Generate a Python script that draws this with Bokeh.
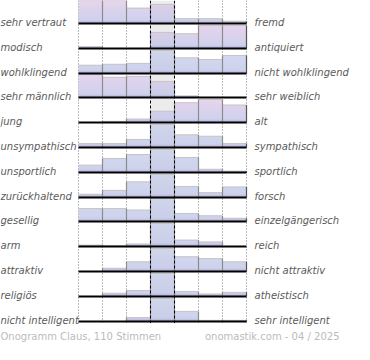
import numpy as np
from bokeh.plotting import figure
from bokeh.models import Range1d, ColumnDataSource
from bokeh.embed import file_html
from bokeh.resources import INLINE
from bokeh.core.properties import value

# ---------------- data ----------------
left_labels = ["sehr vertraut", "modisch", "wohlklingend", "sehr männlich", " jung",
               "unsympathisch", "unsportlich", "zurückhaltend", "gesellig", "arm",
               "attraktiv", "religiös", "nicht intelligent"]
right_labels = ["fremd", "antiquiert", "nicht wohlklingend", "sehr weiblich", "alt",
                "sympathisch", "sportlich", "forsch", "einzelgängerisch", "reich",
                "nicht attraktiv", "atheistisch", "sehr intelligent"]
# relative share per answer step (7 steps), per row
votes_vertraut = [100, 100, 67, 83, 21, 21, 10]
votes_modisch = [8, 0, 0, 70, 64, 100, 100]
votes_wohlklingend = [36, 40, 44, 100, 68, 61, 78]
votes_maennlich = [100, 88, 92, 70, 7, 0, 0]
votes_jung = [0, 5, 15, 49, 86, 100, 76]
votes_unsympathisch = [17, 17, 35, 100, 55, 49, 17]
votes_unsportlich = [32, 61, 78, 100, 65, 14, 6]
votes_zurueckhaltend = [14, 31, 68, 100, 48, 21, 46]
votes_gesellig = [56, 56, 50, 100, 35, 25, 14]
votes_arm = [6, 3, 11, 100, 28, 20, 0]
votes_attraktiv = [0, 14, 42, 100, 64, 56, 42]
votes_religioes = [0, 14, 26, 100, 22, 11, 18]
votes_intelligent = [0, 0, 17, 100, 44, 5, 5]
votes = [votes_vertraut, votes_modisch, votes_wohlklingend, votes_maennlich, votes_jung,
         votes_unsympathisch, votes_unsportlich, votes_zurueckhaltend, votes_gesellig,
         votes_arm, votes_attraktiv, votes_religioes, votes_intelligent]
footer_left = "Onogramm Claus, 110 Stimmen"
footer_right = "onomastik.com - 04 / 2025"

# ---------------- style / layout ----------------
row_pink = [True, True, False, True, True, False, False, False, False, False, False, False, False]
W, HGT = 354, 344
X0, BW = 78, 24          # plot left (px) and bin width (px)
BAR_H, ROW, B0 = 23.0, 24.8, 23.0
NB = 7


def mix(c1, c2, t):
    return "#%02x%02x%02x" % tuple(int(round(a + (b - a) * t)) for a, b in zip(c1, c2))


def strip_color(f, pink):
    band = (160, 146, 202)
    low = (190, 195, 231)
    top = (223, 197, 230) if pink else (198, 206, 235)
    if f < 0.13:
        return mix(band, low, f / 0.13)
    return mix(low, top, (f - 0.13) / 0.87)


p = figure(width=W, height=HGT, output_backend="svg", toolbar_location=None,
           x_range=Range1d(-X0 / BW, (W - X0) / BW), y_range=Range1d(HGT, 0),
           x_axis_type=None, y_axis_type=None, min_border=0,
           outline_line_color=None, background_fill_color="white")
p.grid.visible = False

last_base = B0 + ROW * (len(votes) - 1)

# middle column background
p.quad(left=[3], right=[4], top=[0], bottom=[last_base], fill_color="#ececec", line_color=None)

# dotted verticals
for xv in [0, 1, 2, 5, 6, 7]:
    p.segment(x0=[xv], x1=[xv], y0=[0], y1=[last_base + 2], line_color="#777777",
              line_width=1, line_dash="1 2")

# bar strips (gradient)
sx0, sx1, sy0, sy1, sc = [], [], [], [], []
ex, ey0, ey1, ecol = [], [], [], []
tx0, tx1, ty = [], [], []
for i, vals in enumerate(votes):
    base = round(B0 + ROW * i)
    m = max(vals)
    hs = [v / m * BAR_H for v in vals]
    for k, h in enumerate(hs):
        n = int(np.ceil(h - 1e-9))
        for s in range(n):
            sx0.append(k); sx1.append(k + 1)
            sy0.append(base - s); sy1.append(base - min(s + 1, h))
            sc.append(strip_color(s / BAR_H, row_pink[i]))
        if h > 0:
            tx0.append(k); tx1.append(k + 1); ty.append(base - h)
    for j in range(1, NB + 1):
        hh = max(hs[j - 1], hs[j]) if j < NB else hs[j - 1]
        if hh > 0:
            ex.append(j); ey0.append(base); ey1.append(base - hh)
            ecol.append("#8c8c8c" if j < NB else "#555555")

p.quad(source=ColumnDataSource(dict(l=sx0, r=sx1, b=sy0, t=sy1, c=sc)),
       left="l", right="r", bottom="b", top="t", fill_color="c", line_color=None)
p.segment(x0=tx0, x1=tx1, y0=ty, y1=ty, line_color="#c4c4c4", line_width=1)
p.segment(source=ColumnDataSource(dict(x=ex, y0=ey0, y1=ey1, c=ecol)),
          x0="x", x1="x", y0="y0", y1="y1", line_color="c", line_width=1.2)

# baselines
bases = [round(B0 + ROW * i) for i in range(len(votes))]
p.segment(x0=[0] * len(bases), x1=[NB] * len(bases), y0=bases, y1=bases,
          line_color="black", line_width=2)

# dashed middle lines
for xv in [3, 4]:
    p.segment(x0=[xv], x1=[xv], y0=[0], y1=[last_base + 2], line_color="black",
              line_width=1, line_dash="3 2")

# labels
lab_y = [b - 1 for b in bases]
p.text(x=[-X0 / BW] * len(bases), y=lab_y, text=left_labels,
       text_font=value("DejaVu Sans"), text_font_style="italic", text_font_size="10px",
       text_color="#5a5a5a", text_align="left", text_baseline="alphabetic")
p.text(x=[NB + 8 / BW] * len(bases), y=lab_y, text=right_labels,
       text_font=value("DejaVu Sans"), text_font_style="italic", text_font_size="10px",
       text_color="#5a5a5a", text_align="left", text_baseline="alphabetic")

# footer
p.text(x=[-X0 / BW], y=[HGT - 8], text=[footer_left], text_font=value("DejaVu Sans"),
       text_font_size="10px", text_color="#bbbbbb", text_align="left",
       text_baseline="alphabetic")
p.text(x=[(339 - X0) / BW], y=[HGT - 8], text=[footer_right], text_font=value("DejaVu Sans"),
       text_font_size="10px", text_color="#bbbbbb", text_align="right",
       text_baseline="alphabetic")

open("out.html", "w").write(file_html(p, INLINE))
